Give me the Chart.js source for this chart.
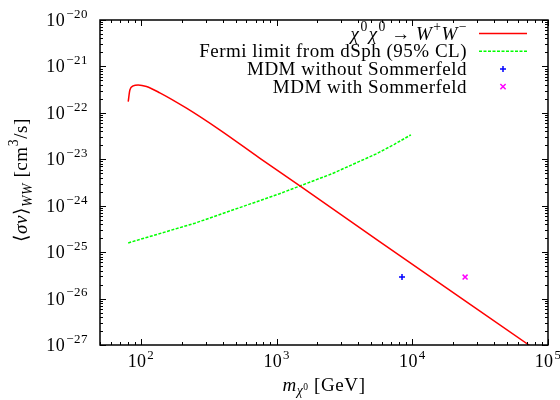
<!DOCTYPE html>
<html>
<head>
<meta charset="utf-8">
<script src="https://cdn.jsdelivr.net/npm/chart.js@4.4.0/dist/chart.umd.min.js"></script>
<style>
  html, body { margin: 0; padding: 0; background: #fff; }
  #wrap { width: 560px; height: 400px; }
</style>
</head>
<body>
<div id="wrap"><canvas id="chart"></canvas></div>
<script>
// chi0 chi0 -> W+ W- cross section
const wwMass  = [80.7, 83, 87.8, 95.5, 110, 138, 217, 381, 750, 1476, 5710, 72400, 100000];
const wwSigma = [1.75e-22, 3.1e-22, 3.8e-22, 4.0e-22, 3.7e-22, 2.7e-22, 1.26e-22, 4.3e-23, 1.06e-23, 2.7e-24, 1.7e-25, 1.0e-27, 5.2e-28];

// Fermi dSph limit
const fermiMass  = [80.7, 250, 1052, 2590, 5430, 7380, 9770];
const fermiSigma = [1.58e-25, 4.2e-25, 1.81e-24, 4.95e-24, 1.31e-23, 2.1e-23, 3.37e-23];

// MDM points
const mdmNoSomMass = [8400];
const mdmNoSomSigma = [2.9e-26];
const mdmSomMass = [24500];
const mdmSomSigma = [2.9e-26];

const xDecades = [2, 3, 4, 5];
const yDecades = [-27, -26, -25, -24, -23, -22, -21, -20];

const SERIF = '"Liberation Serif", "DejaVu Serif", serif';

const pts = (xs, ys) => xs.map((x, i) => ({x: x, y: ys[i]}));

function logTicks(min, max) {
  const out = [];
  for (let e = Math.floor(Math.log10(min)); e <= Math.ceil(Math.log10(max)); e++) {
    for (let k = 1; k <= 9; k++) {
      const v = k * Math.pow(10, e);
      if (v >= min * 0.9999 && v <= max * 1.0001) out.push({value: v});
    }
  }
  return out;
}

// little rich-text helper: italic, super/subscripts
function drawRich(ctx, segs, x, y, size, align, spacing) {
  ctx.letterSpacing = (spacing || 0) + 'px';
  const parts = segs.map(s => {
    const sz = size * (s.k || 1);
    const font = (s.i ? 'italic ' : '') + sz + 'px ' + SERIF;
    ctx.font = font;
    return {s: s, font: font, w: ctx.measureText(s.t).width + (s.gap || 0)};
  });
  const total = parts.reduce((a, p) => a + p.w, 0);
  let cx = align === 'right' ? x - total : align === 'center' ? x - total / 2 : x;
  ctx.textAlign = 'left';
  ctx.textBaseline = 'alphabetic';
  for (const p of parts) {
    ctx.font = p.font;
    ctx.fillText(p.s.t, cx, y - (p.s.dy || 0) * size);
    cx += p.w;
  }
  ctx.letterSpacing = '0px';
}

const sup = (t, gap) => ({t: t, k: 0.72, dy: 0.45, gap: gap || 0});

const legendLabels = [
  [{t: 'χ', i: 1, gap: 1}, sup('0', 1), {t: 'χ', i: 1, gap: 1}, sup('0'), {t: ' → '}, {t: 'W', i: 1, gap: 1}, sup('+'), {t: 'W', i: 1, gap: 1}, sup('−')],
  [{t: 'Fermi limit from dSph (95% CL)'}],
  [{t: 'MDM without Sommerfeld'}],
  [{t: 'MDM with Sommerfeld'}]
];

const gnuFrame = {
  id: 'gnuFrame',
  afterDraw(chart) {
    const ctx = chart.ctx;
    const a = chart.chartArea;
    const xs = chart.scales.x, ys = chart.scales.y;
    ctx.save();
    ctx.strokeStyle = '#000';
    ctx.fillStyle = '#000';
    ctx.lineWidth = 1.5;
    ctx.strokeRect(a.left, a.top, a.right - a.left, a.bottom - a.top);
    ctx.lineWidth = 1;
    ctx.beginPath();
    xs.ticks.forEach(t => {
      const p = Math.round(xs.getPixelForValue(t.value)) + 0.5;
      const major = Math.abs(Math.log10(t.value) - Math.round(Math.log10(t.value))) < 1e-6;
      const len = major ? 6 : 3;
      ctx.moveTo(p, a.bottom); ctx.lineTo(p, a.bottom - len);
      ctx.moveTo(p, a.top); ctx.lineTo(p, a.top + len);
    });
    ys.ticks.forEach(t => {
      const p = Math.round(ys.getPixelForValue(t.value)) + 0.5;
      const major = Math.abs(Math.log10(t.value) - Math.round(Math.log10(t.value))) < 1e-6;
      const len = major ? 6 : 3;
      ctx.moveTo(a.left, p); ctx.lineTo(a.left + len, p);
      ctx.moveTo(a.right, p); ctx.lineTo(a.right - len, p);
    });
    ctx.stroke();

    // tick labels
    xDecades.forEach(e => {
      const p = xs.getPixelForValue(Math.pow(10, e));
      drawRich(ctx, [{t: '10', gap: 1}, sup(String(e))], p, 367, 18, 'center', 0.3);
    });
    yDecades.forEach(e => {
      const p = ys.getPixelForValue(Math.pow(10, e));
      drawRich(ctx, [{t: '10', gap: 1}, sup(String(e).replace('-', '−'))], 88, p + 6, 18, 'right', 0.5);
    });

    // axis titles
    drawRich(ctx, [{t: 'm', i: 1}, {t: 'χ', i: 1, k: 0.72, dy: -0.22}, {t: '0', k: 0.5, dy: 0.05}, {t: ' [GeV]'}],
      (a.left + a.right) / 2, 391, 19, 'center', 0.6);
    ctx.save();
    ctx.translate(27, 180);
    ctx.rotate(-Math.PI / 2);
    drawRich(ctx, [{t: '⟨'}, {t: 'σv', i: 1}, {t: '⟩'}, {t: 'WW', i: 1, k: 0.72, dy: -0.25},
      {t: ' [cm'}, sup('3'), {t: '/s]'}], 0, 0, 19, 'center', 0.6);
    ctx.restore();

    // key
    chart.data.datasets.forEach((ds, i) => {
      const yc = 33.5 + i * 17.7;
      ctx.fillStyle = '#000';
      drawRich(ctx, legendLabels[i], 467, yc + 6, 19, 'right', 0.5);
      if (ds.showLine !== false) {
        ctx.strokeStyle = ds.borderColor;
        ctx.lineWidth = ds.borderWidth;
        ctx.setLineDash(ds.borderDash || []);
        ctx.beginPath();
        ctx.moveTo(479, yc); ctx.lineTo(527, yc);
        ctx.stroke();
        ctx.setLineDash([]);
      } else {
        ctx.strokeStyle = ds.borderColor;
        ctx.lineWidth = ds.pointBorderWidth;
        const r = ds.pointRadius;
        ctx.beginPath();
        if (ds.pointStyle === 'cross') {
          ctx.moveTo(503 - r, yc); ctx.lineTo(503 + r, yc);
          ctx.moveTo(503, yc - r); ctx.lineTo(503, yc + r);
        } else {
          const d = r * 0.75;
          ctx.moveTo(503 - d, yc - d); ctx.lineTo(503 + d, yc + d);
          ctx.moveTo(503 - d, yc + d); ctx.lineTo(503 + d, yc - d);
        }
        ctx.stroke();
      }
    });
    ctx.restore();
  }
};

new Chart(document.getElementById('chart'), {
  type: 'scatter',
  data: {
    datasets: [
      {
        label: 'χ0χ0 → W+W−',
        data: pts(wwMass, wwSigma),
        showLine: true,
        borderColor: '#ff0000',
        borderWidth: 1.5,
        pointRadius: 0,
        cubicInterpolationMode: 'monotone'
      },
      {
        label: 'Fermi limit from dSph (95% CL)',
        data: pts(fermiMass, fermiSigma),
        showLine: true,
        borderColor: '#00ff00',
        borderWidth: 1.5,
        borderDash: [3, 1.5],
        pointRadius: 0,
        tension: 0
      },
      {
        label: 'MDM without Sommerfeld',
        data: pts(mdmNoSomMass, mdmNoSomSigma),
        showLine: false,
        pointStyle: 'cross',
        pointRadius: 3,
        pointBorderWidth: 1.5,
        borderColor: '#0000ff',
        backgroundColor: '#0000ff'
      },
      {
        label: 'MDM with Sommerfeld',
        data: pts(mdmSomMass, mdmSomSigma),
        showLine: false,
        pointStyle: 'crossRot',
        pointRadius: 3.5,
        pointBorderWidth: 1.5,
        borderColor: '#ff00ff',
        backgroundColor: '#ff00ff'
      }
    ]
  },
  options: {
    responsive: true,
    maintainAspectRatio: false,
    animation: false,
    layout: { padding: { left: 0, right: 12, top: 20, bottom: 0 } },
    plugins: {
      legend: { display: false },
      tooltip: { enabled: false }
    },
    scales: {
      x: {
        type: 'logarithmic',
        min: 50,
        max: 100000,
        afterBuildTicks: (s) => { s.ticks = logTicks(50, 100000); },
        afterFit: (s) => { s.height = 55; },
        ticks: { display: false },
        grid: { display: false },
        border: { display: false }
      },
      y: {
        type: 'logarithmic',
        min: 1e-27,
        max: 1e-20,
        afterBuildTicks: (s) => { s.ticks = logTicks(1e-27, 1e-20); },
        afterFit: (s) => { s.width = 100; },
        ticks: { display: false },
        grid: { display: false },
        border: { display: false }
      }
    }
  },
  plugins: [gnuFrame]
});
</script>
</body>
</html>
